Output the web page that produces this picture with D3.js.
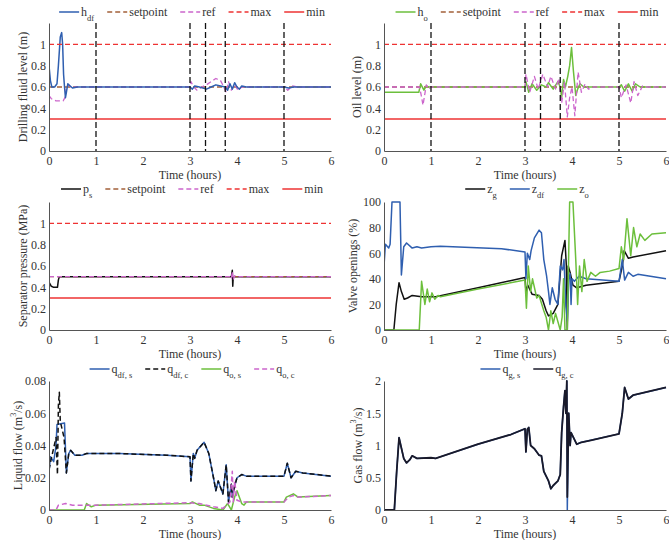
<!DOCTYPE html>
<html>
<head>
<meta charset="utf-8">
<script src="https://cdn.jsdelivr.net/npm/d3@7"></script>
<style>
  body { margin: 0; background: #fff; }
  svg, svg text { font-family: "Liberation Serif", "Times New Roman", "DejaVu Serif", serif; font-weight: normal; }
  svg text { fill: #333; }
</style>
</head>
<body>
<svg id="chart" width="669" height="540"></svg>
<script>
// ---- data ----
const timeTicks = [0, 1, 2, 3, 4, 5, 6];
const levelTicks = [0, 0.2, 0.4, 0.6, 0.8, 1];
const valveTicks = [0, 20, 40, 60, 80, 100];
const liquidTicks = [0, 0.02, 0.04, 0.06, 0.08];
const gasTicks = [0, 0.5, 1, 1.5, 2];

const switchTimes = [1, 3, 3.33, 3.75, 5];
const levelMax = 1, levelMin = 0.3;
const levelSetpoint = 0.6, pressureSetpoint = 0.5;

// drilling fluid level [t, m]
const hdf = [[0,0.8],[0.03,0.66],[0.06,0.6],[0.12,0.6],[0.17,0.63],[0.2,0.8],[0.24,1.07],[0.27,1.11],[0.29,1.0],[0.31,0.72],[0.33,0.6],[0.35,0.5],[0.37,0.55],[0.4,0.63],[0.45,0.61],[0.5,0.59],[0.6,0.6],[3.0,0.6],[3.05,0.58],[3.1,0.61],[3.2,0.6],[3.35,0.58],[3.45,0.6],[3.55,0.62],[3.65,0.61],[3.75,0.6],[3.8,0.57],[3.85,0.63],[3.9,0.58],[3.95,0.64],[4.0,0.6],[4.05,0.58],[4.1,0.61],[4.2,0.6],[5.0,0.6],[5.1,0.59],[5.2,0.6],[6,0.6]];
const hdfRef = [[0,0.52],[0.05,0.49],[0.15,0.47],[0.3,0.47],[0.34,0.5],[0.37,0.6],[0.42,0.62],[0.48,0.59],[0.55,0.6],[3.0,0.6],[3.02,0.65],[3.08,0.6],[3.15,0.57],[3.25,0.6],[3.35,0.62],[3.45,0.65],[3.55,0.68],[3.65,0.66],[3.72,0.6],[3.77,0.55],[3.82,0.65],[3.88,0.57],[3.95,0.62],[4.02,0.57],[4.1,0.6],[4.2,0.6],[5.0,0.6],[5.08,0.57],[5.18,0.61],[5.28,0.6],[6,0.6]];

// oil level [t, m]
const ho = [[0,0.55],[0.74,0.55],[0.78,0.63],[0.85,0.57],[0.9,0.61],[0.95,0.6],[3.0,0.6],[3.02,0.65],[3.08,0.55],[3.15,0.63],[3.25,0.57],[3.35,0.62],[3.45,0.6],[3.5,0.64],[3.6,0.58],[3.7,0.65],[3.75,0.6],[3.78,0.5],[3.82,0.67],[3.86,0.6],[3.91,0.7],[3.95,0.8],[3.99,0.97],[4.03,0.75],[4.08,0.52],[4.12,0.58],[4.17,0.63],[4.25,0.6],[5.0,0.6],[5.05,0.62],[5.12,0.56],[5.2,0.63],[5.28,0.56],[5.35,0.63],[5.45,0.6],[6,0.6]];
const hoRef = [[0,0.6],[0.75,0.6],[0.78,0.55],[0.83,0.43],[0.9,0.62],[0.95,0.58],[1.0,0.6],[3.0,0.6],[3.02,0.72],[3.1,0.55],[3.2,0.7],[3.28,0.58],[3.38,0.72],[3.48,0.6],[3.55,0.7],[3.65,0.58],[3.72,0.68],[3.78,0.45],[3.84,0.65],[3.9,0.32],[3.95,0.5],[4.0,0.6],[4.06,0.33],[4.13,0.74],[4.2,0.55],[4.28,0.63],[4.35,0.58],[4.45,0.6],[5.0,0.6],[5.05,0.5],[5.15,0.62],[5.25,0.45],[5.32,0.65],[5.4,0.52],[5.5,0.61],[5.6,0.6],[6,0.6]];

// separator pressure [t, MPa]
const ps = [[0,0.45],[0.05,0.41],[0.1,0.4],[0.18,0.4],[0.2,0.47],[0.22,0.5],[3.88,0.5],[3.9,0.56],[3.91,0.41],[3.92,0.5],[6,0.5]];
const psRef = [[0,0.5],[3.85,0.5],[3.88,0.48],[3.9,0.55],[3.92,0.47],[3.95,0.51],[4.0,0.5],[6,0.5]];

// valve openings [t, %]
const zg = [[0,0],[0.21,0],[0.26,20],[0.32,37],[0.37,30],[0.43,24],[0.5,25],[0.6,27],[0.8,26],[1.1,26],[2.0,33],[3.0,41],[3.02,30],[3.06,35],[3.15,28],[3.3,27],[3.37,24],[3.45,15],[3.5,11],[3.6,13],[3.7,20],[3.78,58],[3.85,70],[3.88,50],[3.9,0],[3.92,50],[3.96,45],[4.02,35],[4.1,33],[4.3,35],[5.0,38],[5.07,50],[5.11,62],[5.2,56],[5.3,57],[6,62]];
const zdf = [[0,50],[0.03,67],[0.1,64],[0.13,67],[0.17,100],[0.34,100],[0.37,43],[0.42,65],[0.48,68],[0.6,64],[0.7,65],[0.8,64],[1.0,65],[1.2,65.5],[2.5,63.5],[3.0,61],[3.02,40],[3.05,60],[3.1,55],[3.13,62],[3.2,72],[3.3,78],[3.35,76],[3.4,55],[3.46,42],[3.5,30],[3.53,20],[3.58,33],[3.64,24],[3.7,20],[3.75,50],[3.8,47],[3.83,55],[3.87,18],[3.9,7],[3.93,40],[3.96,44],[3.98,20],[4.0,40],[4.05,38],[4.15,42],[4.3,40],[5.0,38],[5.07,55],[5.12,39],[5.2,45],[5.3,42],[5.4,43.5],[6,40]];
const zo = [[0,0],[0.75,0],[0.8,38],[0.87,20],[0.92,32],[0.97,22],[1.02,29],[1.08,24],[1.15,27],[1.2,26],[2.0,32],[3.0,39],[3.03,17],[3.07,50],[3.12,30],[3.16,40],[3.25,25],[3.3,27],[3.4,15],[3.45,10],[3.5,0],[3.55,15],[3.6,5],[3.65,13],[3.75,0],[3.79,10],[3.82,40],[3.85,0],[3.9,0],[3.95,100],[4.02,100],[4.08,55],[4.12,20],[4.16,50],[4.21,30],[4.26,55],[4.32,38],[4.4,45],[4.5,42],[4.6,45],[4.8,46],[5.0,48],[5.05,65],[5.1,55],[5.17,87],[5.25,58],[5.31,80],[5.38,65],[5.45,75],[5.55,70],[5.7,75],[6,76]];

// liquid flow [t, m3/s]
const qdfS = [[0,0.023],[0.03,0.033],[0.1,0.03],[0.15,0.04],[0.17,0.053],[0.33,0.054],[0.37,0.023],[0.42,0.035],[0.46,0.037],[0.55,0.034],[0.7,0.034],[0.8,0.035],[1.5,0.035],[2.5,0.034],[3.0,0.033],[3.02,0.018],[3.07,0.035],[3.1,0.032],[3.15,0.037],[3.3,0.042],[3.4,0.035],[3.5,0.02],[3.55,0.012],[3.6,0.018],[3.7,0.01],[3.77,0.028],[3.82,0.005],[3.88,0.016],[3.9,0.008],[3.95,0.015],[4.0,0.02],[4.1,0.022],[4.2,0.021],[5.0,0.021],[5.07,0.029],[5.15,0.02],[5.25,0.024],[5.4,0.023],[6,0.021]];
const qdfC = [[0,0.025],[0.05,0.032],[0.15,0.045],[0.18,0.022],[0.2,0.065],[0.22,0.073],[0.24,0.055],[0.28,0.05],[0.32,0.045],[0.37,0.023],[0.42,0.035],[0.46,0.037],[0.55,0.034],[0.7,0.034],[0.8,0.035],[1.5,0.035],[2.5,0.034],[3.0,0.033],[3.02,0.018],[3.07,0.035],[3.1,0.032],[3.15,0.037],[3.3,0.042],[3.4,0.035],[3.5,0.02],[3.55,0.012],[3.6,0.018],[3.7,0.01],[3.77,0.028],[3.82,0.005],[3.88,0.016],[3.9,0.008],[3.95,0.015],[4.0,0.02],[4.1,0.022],[4.2,0.021],[5.0,0.021],[5.07,0.029],[5.15,0.02],[5.25,0.024],[5.4,0.023],[6,0.021]];
const qoS = [[0,0],[0.75,0],[0.8,0.004],[0.9,0.002],[1.0,0.003],[3.0,0.004],[3.05,0.005],[3.2,0.003],[3.3,0.003],[3.5,0.001],[3.7,0],[3.8,0.004],[3.88,0],[3.95,0.008],[4.0,0.012],[4.1,0.004],[4.15,0.003],[4.2,0.005],[4.5,0.005],[5.0,0.005],[5.05,0.008],[5.2,0.01],[5.3,0.008],[6,0.009]];
const qoC = [[0,0],[0.15,0],[0.2,0.003],[0.35,0.004],[0.5,0.003],[1.0,0.003],[3.0,0.0045],[3.2,0.004],[3.5,0.002],[3.7,0.001],[3.85,0.005],[3.9,0.024],[3.92,0.005],[3.95,0.018],[4.0,0.006],[4.1,0.005],[5.0,0.005],[5.1,0.008],[5.2,0.009],[5.3,0.008],[6,0.009]];

// gas flow [t, m3/s]
const qgS = [[0,0],[0.22,0],[0.27,0.6],[0.32,1.12],[0.42,0.8],[0.48,0.73],[0.55,0.78],[0.6,0.84],[0.7,0.8],[1.0,0.81],[1.1,0.8],[2.0,1.02],[2.7,1.17],[3.0,1.26],[3.02,0.9],[3.05,1.25],[3.08,1.28],[3.12,1.0],[3.2,0.95],[3.3,0.85],[3.35,0.84],[3.4,0.6],[3.5,0.45],[3.55,0.33],[3.6,0.38],[3.7,0.45],[3.75,0.55],[3.78,1.2],[3.82,1.6],[3.85,1.85],[3.87,1.5],[3.89,2.0],[3.9,0],[3.93,1.5],[3.96,1.0],[3.98,1.2],[4.1,1.02],[4.2,1.05],[4.4,1.08],[5.0,1.18],[5.07,1.5],[5.12,1.9],[5.2,1.72],[5.3,1.78],[6,1.9]];
const qgC = [[0,0],[0.22,0],[0.27,0.6],[0.32,1.12],[0.42,0.8],[0.48,0.73],[0.55,0.78],[0.6,0.84],[0.7,0.8],[1.0,0.81],[1.1,0.8],[2.0,1.02],[2.7,1.17],[3.0,1.26],[3.02,0.9],[3.05,1.25],[3.08,1.28],[3.12,1.0],[3.2,0.95],[3.3,0.85],[3.35,0.84],[3.4,0.6],[3.5,0.45],[3.55,0.33],[3.6,0.38],[3.7,0.45],[3.75,0.55],[3.78,1.2],[3.82,1.6],[3.85,1.85],[3.87,1.5],[3.89,2.0],[3.9,0.2],[3.93,1.5],[3.96,1.0],[3.98,1.2],[4.1,1.02],[4.2,1.05],[4.4,1.08],[5.0,1.18],[5.07,1.5],[5.12,1.9],[5.2,1.72],[5.3,1.78],[6,1.9]];

// ---- styles ----
const FONT = '"Liberation Serif", "Times New Roman", "DejaVu Serif", serif';
const BLUE = '#2f5fb0', GREEN = '#6cbf3c', BLACK = '#111', MAG = '#cc66cc',
      BROWN = '#a3603a', RED = '#ee3333';

const svg = d3.select('#chart').attr('font-family', FONT);

function txt(sel) {
  return sel.attr('font-family', FONT).attr('font-weight', 'normal').attr('fill', '#333');
}

function panel(o) {
  const x = d3.scaleLinear().domain([0, 6]).range(o.xr);
  const y = d3.scaleLinear().domain(o.yd).range(o.yr);
  const g = svg.append('g');
  const clipId = 'clip' + o.id;
  g.append('clipPath').attr('id', clipId).append('rect')
    .attr('x', o.xr[0]).attr('y', o.yr[1] - 2)
    .attr('width', o.xr[1] - o.xr[0] + 2).attr('height', o.yr[0] - o.yr[1] + 4);
  const plot = g.append('g').attr('clip-path', `url(#${clipId})`);

  const line = d3.line().x(d => x(d[0])).y(d => y(d[1]));
  o.series.forEach(s => {
    plot.append('path').datum(s.data)
      .attr('fill', 'none').attr('stroke', s.color)
      .attr('stroke-width', s.w || 1.3)
      .attr('stroke-dasharray', s.dash || null)
      .attr('stroke-linejoin', 'round')
      .attr('d', line);
  });
  (o.vlines || []).forEach(t => {
    plot.append('line').attr('x1', x(t)).attr('x2', x(t))
      .attr('y1', o.yr[1]).attr('y2', o.yr[0])
      .attr('stroke', BLACK).attr('stroke-width', 1.3).attr('stroke-dasharray', '6,3');
  });

  // axes (left + bottom, no tick marks)
  const ax = g.append('g').attr('transform', `translate(0,${o.yr[0]})`)
    .call(d3.axisBottom(x).tickValues(timeTicks).tickSize(0).tickPadding(5).tickFormat(d3.format('~g')));
  const ay = g.append('g').attr('transform', `translate(${o.xr[0]},0)`)
    .call(d3.axisLeft(y).tickValues(o.ticks).tickSize(0).tickPadding(3).tickFormat(d3.format('~g')));
  [ax, ay].forEach(a => {
    a.attr('font-family', FONT).attr('font-size', 12);
    a.select('.domain').attr('stroke', '#555').attr('stroke-width', 1);
    txt(a.selectAll('text')).attr('font-size', 12);
  });

  txt(g.append('text')).attr('x', (o.xr[0] + o.xr[1]) / 2).attr('y', o.yr[0] + 28)
    .attr('text-anchor', 'middle').attr('font-size', 12).text('Time (hours)');

  const yl = txt(g.append('text'))
    .attr('transform', `translate(${o.ylx},${(o.yr[0] + o.yr[1]) / 2}) rotate(-90)`)
    .attr('text-anchor', 'middle').attr('dominant-baseline', 'central').attr('font-size', 12);
  yl.append('tspan').text(o.ylabel[0]);
  if (o.ylabel[1]) {
    yl.append('tspan').attr('font-size', 8).attr('dy', -5).text(o.ylabel[1]);
    yl.append('tspan').attr('dy', 5).text(o.ylabel[2]);
  }

  // legend
  const lg = g.append('g');
  let cx = 0;
  o.legend.forEach(it => {
    const s = it.s;
    lg.append('line').attr('x1', cx).attr('x2', cx + 20).attr('y1', 0).attr('y2', 0)
      .attr('stroke', s.color).attr('stroke-width', 1.5)
      .attr('stroke-dasharray', s.dash ? '5,3' : null);
    const t = txt(lg.append('text')).attr('x', cx + 22).attr('y', 4).attr('font-size', 12);
    t.append('tspan').text(it.name);
    if (it.sub) t.append('tspan').attr('font-size', 8.5).attr('dy', 5).text(it.sub);
    cx += 22 + t.node().getComputedTextLength() + 13;
  });
  const lw = cx - 13;
  lg.attr('transform', `translate(${(o.xr[0] + o.xr[1]) / 2 - lw / 2 + 2},${o.legY})`);
}

const L = [49, 331], R = [384, 666];
const row1 = [151, 23], row2 = [330, 202], row3 = [510, 381];

// shared reference styles
const sMax = { color: RED, dash: '5,3', w: 1.3 };
const sMin = { color: RED, w: 1.3 };

// panel 1
{
  const sH = { data: hdf, color: BLUE, w: 1.5 };
  const sSp = { data: [[0, levelSetpoint], [6, levelSetpoint]], color: BROWN, dash: '5,3', w: 1.3 };
  const sRef = { data: hdfRef, color: MAG, dash: '5,3', w: 1.3 };
  const mx = Object.assign({ data: [[0, levelMax], [6, levelMax]] }, sMax);
  const mn = Object.assign({ data: [[0, levelMin], [6, levelMin]] }, sMin);
  panel({ id: 1, xr: L, yr: row1, yd: [0, 1.2], ticks: levelTicks, ylx: 23,
    ylabel: ['Drilling fluid level (m)'], legY: 12, vlines: switchTimes,
    series: [sSp, sRef, sH, mx, mn],
    legend: [{ s: sH, name: 'h', sub: 'df' }, { s: sSp, name: 'setpoint' }, { s: sRef, name: 'ref' },
             { s: mx, name: 'max' }, { s: mn, name: 'min' }] });
}
// panel 2
{
  const sH = { data: ho, color: GREEN, w: 1.5 };
  const sSp = { data: [[0, levelSetpoint], [6, levelSetpoint]], color: BROWN, dash: '5,3', w: 1.3 };
  const sRef = { data: hoRef, color: MAG, dash: '5,3', w: 1.3 };
  const mx = Object.assign({ data: [[0, levelMax], [6, levelMax]] }, sMax);
  const mn = Object.assign({ data: [[0, levelMin], [6, levelMin]] }, sMin);
  panel({ id: 2, xr: R, yr: row1, yd: [0, 1.2], ticks: levelTicks, ylx: 357,
    ylabel: ['Oil level (m)'], legY: 12, vlines: switchTimes,
    series: [sSp, sH, sRef, mx, mn],
    legend: [{ s: sH, name: 'h', sub: 'o' }, { s: sSp, name: 'setpoint' }, { s: sRef, name: 'ref' },
             { s: mx, name: 'max' }, { s: mn, name: 'min' }] });
}
// panel 3
{
  const sP = { data: ps, color: BLACK, w: 1.5 };
  const sSp = { data: [[0, pressureSetpoint], [6, pressureSetpoint]], color: BROWN, dash: '5,3', w: 1.3 };
  const sRef = { data: psRef, color: MAG, dash: '5,3', w: 1.3 };
  const mx = Object.assign({ data: [[0, levelMax], [6, levelMax]] }, sMax);
  const mn = Object.assign({ data: [[0, levelMin], [6, levelMin]] }, sMin);
  panel({ id: 3, xr: L, yr: row2, yd: [0, 1.2], ticks: levelTicks, ylx: 23,
    ylabel: ['Separator pressure (MPa)'], legY: 189,
    series: [sP, sSp, sRef, mx, mn],
    legend: [{ s: sP, name: 'p', sub: 's' }, { s: sSp, name: 'setpoint' }, { s: sRef, name: 'ref' },
             { s: mx, name: 'max' }, { s: mn, name: 'min' }] });
}
// panel 4
{
  const a = { data: zg, color: BLACK, w: 1.5 };
  const b = { data: zdf, color: BLUE, w: 1.5 };
  const c = { data: zo, color: GREEN, w: 1.5 };
  panel({ id: 4, xr: R, yr: row2, yd: [0, 100], ticks: valveTicks, ylx: 353,
    ylabel: ['Valve openings (%)'], legY: 189,
    series: [a, b, c],
    legend: [{ s: a, name: 'z', sub: 'g' }, { s: b, name: 'z', sub: 'df' }, { s: c, name: 'z', sub: 'o' }] });
}
// panel 5
{
  const a = { data: qdfS, color: BLUE, w: 1.5 };
  const b = { data: qdfC, color: BLACK, dash: '5,3', w: 1.5 };
  const c = { data: qoS, color: GREEN, w: 1.5 };
  const d = { data: qoC, color: MAG, dash: '5,3', w: 1.5 };
  panel({ id: 5, xr: L, yr: row3, yd: [0, 0.08], ticks: liquidTicks, ylx: 18,
    ylabel: ['Liquid flow (m', '3', '/s)'], legY: 369,
    series: [a, b, c, d],
    legend: [{ s: a, name: 'q', sub: 'df, s' }, { s: b, name: 'q', sub: 'df, c' },
             { s: c, name: 'q', sub: 'o, s' }, { s: d, name: 'q', sub: 'o, c' }] });
}
// panel 6
{
  const a = { data: qgS, color: BLUE, w: 1.5 };
  const b = { data: qgC, color: '#1a1a2a', w: 1.8 };
  panel({ id: 6, xr: R, yr: row3, yd: [0, 2], ticks: gasTicks, ylx: 358,
    ylabel: ['Gas flow (m', '3', '/s)'], legY: 369,
    series: [a, b],
    legend: [{ s: a, name: 'q', sub: 'g, s' }, { s: b, name: 'q', sub: 'g, c' }] });
}
</script>
</body>
</html>
